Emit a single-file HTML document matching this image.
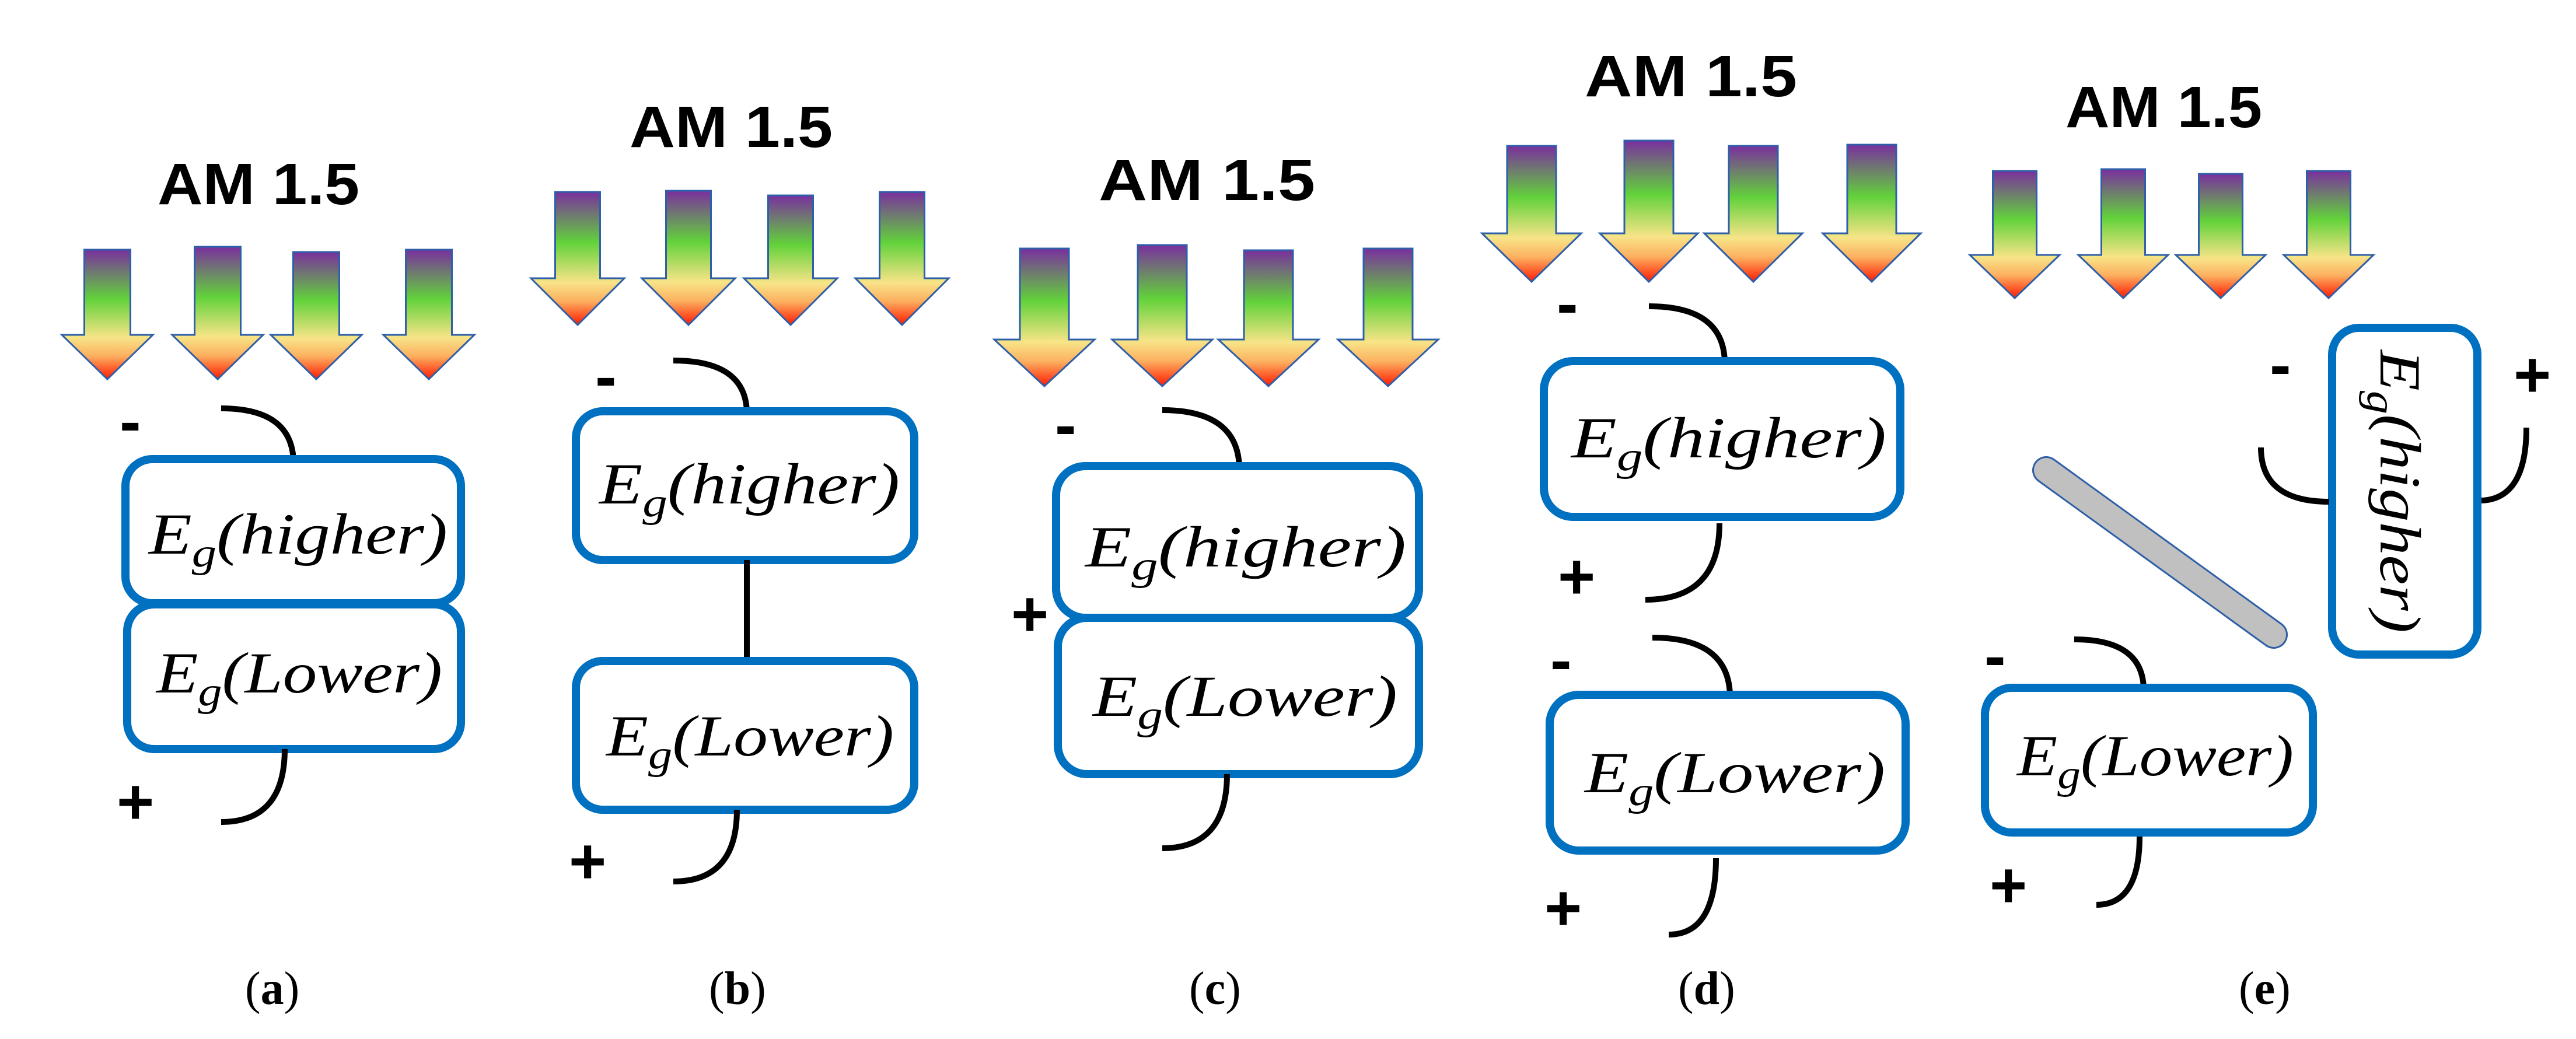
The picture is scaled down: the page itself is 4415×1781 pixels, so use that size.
<!DOCTYPE html>
<html><head><meta charset="utf-8"><style>
html,body{margin:0;padding:0;background:#fff;}
svg{display:block;}
.am{font-family:"Liberation Sans",sans-serif;font-weight:bold;font-size:100px;fill:#000;}
.eg{font-family:"Liberation Serif",serif;font-style:italic;font-size:100px;fill:#000;}
.sg{font-size:70px;}
.pm{font-family:"Liberation Sans",sans-serif;font-weight:bold;font-size:110px;fill:#000;}
.lb{font-family:"Liberation Serif",serif;font-size:80px;fill:#000;}
.box{fill:#fff;stroke:#0070c0;stroke-width:14;}
.w{fill:none;stroke:#000;stroke-width:10;}
.ar{fill:url(#g);stroke:#2e5fa8;stroke-width:3;}
</style></head><body>
<svg width="4415" height="1781" viewBox="0 0 4415 1781" xmlns="http://www.w3.org/2000/svg">
<defs>
<linearGradient id="g" x1="0" y1="0" x2="0" y2="1">
<stop offset="0" stop-color="#7a2f9e"/>
<stop offset="0.38" stop-color="#62d23a"/>
<stop offset="0.68" stop-color="#f8e488"/>
<stop offset="0.82" stop-color="#fcb060"/>
<stop offset="1" stop-color="#ff1a00"/>
</linearGradient>
</defs>

<!-- Panel a -->
<text class="am" x="270" y="350" textLength="346" lengthAdjust="spacingAndGlyphs">AM 1.5</text>
<polygon class="ar" points="144.5,428 223.5,428 223.5,574 262,574 184,650 106,574 144.5,574"/>
<polygon class="ar" points="333.5,423 412.5,423 412.5,574 451,574 373,650 295,574 333.5,574"/>
<polygon class="ar" points="502.5,432 581.5,432 581.5,574 620,574 542,650 464,574 502.5,574"/>
<polygon class="ar" points="695.5,428 774.5,428 774.5,574 813,574 735,650 657,574 695.5,574"/>
<text class="pm" x="205" y="760">-</text>
<path class="w" d="M379,700 Q500,700 503,790"/>
<rect class="box" x="215" y="787" width="575" height="247" rx="46"/>
<rect class="box" x="218" y="1036" width="572" height="248" rx="46"/>
<text class="eg" x="255" y="949" textLength="512" lengthAdjust="spacingAndGlyphs">E<tspan class="sg" dy="22">g</tspan><tspan dy="-22">(higher)</tspan></text>
<text class="eg" x="268" y="1187" textLength="490" lengthAdjust="spacingAndGlyphs">E<tspan class="sg" dy="22">g</tspan><tspan dy="-22">(Lower)</tspan></text>
<path class="w" d="M488,1284 Q488,1409 379,1409"/>
<text class="pm" x="200" y="1412">+</text>
<text class="lb" x="420" y="1721">(<tspan font-weight="bold">a</tspan>)</text>

<!-- Panel b -->
<text class="am" x="1079" y="252" textLength="348" lengthAdjust="spacingAndGlyphs">AM 1.5</text>
<polygon class="ar" points="951.5,329 1028.5,329 1028.5,477 1070,477 990,557 910,477 951.5,477"/>
<polygon class="ar" points="1141.5,327 1218.5,327 1218.5,477 1260,477 1180,557 1100,477 1141.5,477"/>
<polygon class="ar" points="1316.5,335 1393.5,335 1393.5,477 1435,477 1355,557 1275,477 1316.5,477"/>
<polygon class="ar" points="1507.5,329 1584.5,329 1584.5,477 1626,477 1546,557 1466,477 1507.5,477"/>
<text class="pm" x="1020" y="683">-</text>
<path class="w" d="M1154,618 Q1277,618 1280,705"/>
<rect class="box" x="987" y="705" width="580" height="255" rx="46"/>
<line class="w" x1="1280" y1="960" x2="1280" y2="1133"/>
<rect class="box" x="987" y="1133" width="580" height="255" rx="46"/>
<text class="eg" x="1027" y="863" textLength="515" lengthAdjust="spacingAndGlyphs">E<tspan class="sg" dy="22">g</tspan><tspan dy="-22">(higher)</tspan></text>
<text class="eg" x="1039" y="1295" textLength="493" lengthAdjust="spacingAndGlyphs">E<tspan class="sg" dy="22">g</tspan><tspan dy="-22">(Lower)</tspan></text>
<path class="w" d="M1263,1388 Q1263,1511 1154,1511"/>
<text class="pm" x="975" y="1514">+</text>
<text class="lb" x="1215" y="1721">(<tspan font-weight="bold">b</tspan>)</text>

<!-- Panel c -->
<text class="am" x="1883" y="343" textLength="371" lengthAdjust="spacingAndGlyphs">AM 1.5</text>
<polygon class="ar" points="1748,426 1832,426 1832,582 1876,582 1790,662 1704,582 1748,582"/>
<polygon class="ar" points="1950,420 2034,420 2034,582 2078,582 1992,662 1906,582 1950,582"/>
<polygon class="ar" points="2132,429 2216,429 2216,582 2260,582 2174,662 2088,582 2132,582"/>
<polygon class="ar" points="2337,426 2421,426 2421,582 2465,582 2379,662 2293,582 2337,582"/>
<text class="pm" x="1808" y="766">-</text>
<path class="w" d="M1992,703 Q2120,703 2124,799"/>
<rect class="box" x="1810" y="799" width="622" height="260" rx="50"/>
<rect class="box" x="1813" y="1059" width="619" height="268" rx="50"/>
<text class="eg" x="1860" y="971" textLength="550" lengthAdjust="spacingAndGlyphs">E<tspan class="sg" dy="22">g</tspan><tspan dy="-22">(higher)</tspan></text>
<text class="eg" x="1873" y="1227" textLength="522" lengthAdjust="spacingAndGlyphs">E<tspan class="sg" dy="22">g</tspan><tspan dy="-22">(Lower)</tspan></text>
<text class="pm" x="1733" y="1090" font-size="75">+</text>
<path class="w" d="M2103,1327 Q2103,1454 1992,1454"/>
<text class="lb" x="2038" y="1721">(<tspan font-weight="bold">c</tspan>)</text>

<!-- Panel d -->
<text class="am" x="2716" y="165" textLength="364" lengthAdjust="spacingAndGlyphs">AM 1.5</text>
<polygon class="ar" points="2583,250 2667,250 2667,400 2710,400 2625,483 2540,400 2583,400"/>
<polygon class="ar" points="2784,241 2868,241 2868,400 2910,400 2826,483 2742,400 2784,400"/>
<polygon class="ar" points="2963,250 3047,250 3047,400 3089,400 3005,483 2921,400 2963,400"/>
<polygon class="ar" points="3166,248 3250,248 3250,400 3292,400 3208,483 3124,400 3166,400"/>
<text class="pm" x="2668" y="558">-</text>
<path class="w" d="M2826,525 Q2953,525 2956,619"/>
<rect class="box" x="2646" y="619" width="611" height="267" rx="50"/>
<text class="eg" x="2693" y="784" textLength="540" lengthAdjust="spacingAndGlyphs">E<tspan class="sg" dy="22">g</tspan><tspan dy="-22">(higher)</tspan></text>
<path class="w" d="M2947,897 Q2947,1028 2820,1028"/>
<text class="pm" x="2670" y="1026">+</text>
<text class="pm" x="2657" y="1169">-</text>
<path class="w" d="M2832,1093 Q2962,1093 2965,1191"/>
<rect class="box" x="2656" y="1191" width="610" height="267" rx="50"/>
<text class="eg" x="2716" y="1358" textLength="515" lengthAdjust="spacingAndGlyphs">E<tspan class="sg" dy="22">g</tspan><tspan dy="-22">(Lower)</tspan></text>
<path class="w" d="M2941,1471 Q2941,1602 2860,1602"/>
<text class="pm" x="2647" y="1594">+</text>
<text class="lb" x="2876" y="1721">(<tspan font-weight="bold">d</tspan>)</text>

<!-- Panel e -->
<text class="am" x="3540" y="218" textLength="337" lengthAdjust="spacingAndGlyphs">AM 1.5</text>
<polygon class="ar" points="3415.5,293 3490.5,293 3490.5,437 3530,437 3453,511 3376,437 3415.5,437"/>
<polygon class="ar" points="3601.5,290 3676.5,290 3676.5,437 3716,437 3639,511 3562,437 3601.5,437"/>
<polygon class="ar" points="3768.5,298 3843.5,298 3843.5,437 3883,437 3806,511 3729,437 3768.5,437"/>
<polygon class="ar" points="3953.5,293 4028.5,293 4028.5,437 4068,437 3991,511 3914,437 3953.5,437"/>
<rect class="box" x="3997" y="562" width="249" height="560" rx="46"/>
<text class="eg" transform="translate(4080,600) rotate(90)" x="0" y="0" textLength="485" lengthAdjust="spacingAndGlyphs">E<tspan class="sg" dy="22">g</tspan><tspan dy="-22">(higher)</tspan></text>
<text class="pm" x="3890" y="663">-</text>
<text class="pm" x="4308" y="680">+</text>
<path class="w" d="M3875,767 Q3875,860 3992,860"/>
<path class="w" d="M4330,733 Q4330,855 4253,858"/>
<line x1="3507" y1="806" x2="3897" y2="1088" stroke="#2e5fa8" stroke-width="48" stroke-linecap="round"/>
<line x1="3507" y1="806" x2="3897" y2="1088" stroke="#c0c0c0" stroke-width="42" stroke-linecap="round"/>
<text class="pm" x="3401" y="1162">-</text>
<path class="w" d="M3555,1096 Q3671,1096 3674,1179"/>
<rect class="box" x="3402" y="1179" width="562" height="248" rx="46"/>
<text class="eg" x="3457" y="1329" textLength="474" lengthAdjust="spacingAndGlyphs">E<tspan class="sg" dy="22">g</tspan><tspan dy="-22">(Lower)</tspan></text>
<path class="w" d="M3667,1434 Q3667,1551 3593,1551"/>
<text class="pm" x="3410" y="1555">+</text>
<text class="lb" x="3837" y="1721">(<tspan font-weight="bold">e</tspan>)</text>
</svg>
</body></html>
